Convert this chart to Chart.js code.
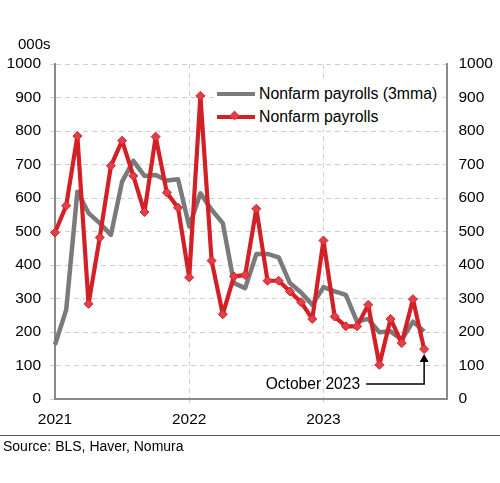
<!DOCTYPE html>
<html>
<head>
<meta charset="utf-8">
<script src="https://cdn.jsdelivr.net/npm/chart.js@4/dist/chart.umd.min.js"></script>
<style>
  html, body { margin:0; padding:0; background:#fff; }
  #wrap { position:relative; width:500px; height:483px; font-family:"Liberation Sans", Arial, sans-serif; }
  canvas { position:absolute; left:0; top:0; }
  .txt { position:absolute; color:#000; white-space:nowrap; }
  #legend { position:absolute; left:215px; top:80px; width:226px; height:49px; background:#fff; }
  .lrow { position:absolute; left:0; height:20px; font-size:15.8px; line-height:20px; }
  .lline { position:absolute; left:2px; top:8px; width:38px; height:4px; }
  .ltext { position:absolute; left:44px; top:0; }
  .diamond { position:absolute; left:16px; top:5px; width:7px; height:7px; background:#e0404a; transform:rotate(45deg); }
  #srcline { position:absolute; left:0; top:435px; width:500px; height:1px; background:#555; }
</style>
</head>
<body>
<div id="wrap">
  <canvas id="c" width="500" height="483"></canvas>
  <div class="txt" style="left:18px; top:35px; font-size:15px;">000s</div>
  <div id="legend">
    <div class="lrow" style="top:4px; width:226px;">
      <div class="lline" style="background:#7a7a7a;"></div>
      <div class="ltext">Nonfarm payrolls (3mma)</div>
    </div>
    <div class="lrow" style="top:27px; width:226px;">
      <div class="lline" style="background:#d32027;"></div>
      <div class="diamond"></div>
      <div class="ltext">Nonfarm payrolls</div>
    </div>
  </div>
  <div id="srcline"></div>
  <div class="txt" style="left:3px; top:438px; font-size:14px;">Source: BLS, Haver, Nomura</div>
</div>
<script>
const months = [
  "2021-01","2021-02","2021-03","2021-04","2021-05","2021-06","2021-07","2021-08","2021-09","2021-10","2021-11","2021-12",
  "2022-01","2022-02","2022-03","2022-04","2022-05","2022-06","2022-07","2022-08","2022-09","2022-10","2022-11","2022-12",
  "2023-01","2023-02","2023-03","2023-04","2023-05","2023-06","2023-07","2023-08","2023-09","2023-10","2023-11","2023-12"
];
const payrolls = [497, 577, 785, 284, 482, 696, 771, 666, 558, 783, 616, 571,
                  363, 905, 413, 253, 366, 370, 568, 353, 353, 321, 289, 239,
                  473, 246, 217, 217, 281, 102, 239, 167, 298, 149];
const payrolls3mma = [162, 266, 619, 555, 525, 490, 649, 711, 666, 669, 652, 656,
                      515, 614, 565, 525, 346, 331, 433, 433, 423, 346, 318, 281,
                      334, 321, 311, 231, 239, 199, 202, 177, 231, 202];
const yTicks = [0, 100, 200, 300, 400, 500, 600, 700, 800, 900, 1000];
const annotationLabel = "October 2023";
const annotationIndex = 33;

const FONT = "'Liberation Sans', Arial, sans-serif";

const annotationPlugin = {
  id: 'octAnnot',
  afterDatasetsDraw(chart) {
    const ctx = chart.ctx;
    const xs = chart.scales.x, ys = chart.scales.y;
    const px = xs.getPixelForValue(annotationIndex);
    const py = ys.getPixelForValue(payrolls[annotationIndex]);
    const ly = ys.getPixelForValue(45);
    ctx.save();
    ctx.font = "15.6px " + FONT;
    ctx.fillStyle = "#000";
    ctx.textAlign = "right";
    ctx.textBaseline = "middle";
    const textRight = px - 64;
    ctx.fillText(annotationLabel, textRight, ly + 1);
    ctx.strokeStyle = "#000";
    ctx.lineWidth = 1.5;
    ctx.beginPath();
    ctx.moveTo(textRight + 6, ly);
    ctx.lineTo(px, ly);
    ctx.lineTo(px, py + 12);
    ctx.stroke();
    ctx.beginPath();
    ctx.moveTo(px, py + 5);
    ctx.lineTo(px - 4.5, py + 13);
    ctx.lineTo(px + 4.5, py + 13);
    ctx.closePath();
    ctx.fillStyle = "#000";
    ctx.fill();
    ctx.restore();
  }
};

const tickFmt = (v) => String(v);

new Chart(document.getElementById('c'), {
  type: 'line',
  data: {
    labels: months,
    datasets: [
      {
        label: 'Nonfarm payrolls',
        data: payrolls,
        borderColor: '#d32027',
        borderWidth: 4.2,
        borderJoinStyle: 'round',
        pointStyle: 'rectRot',
        pointRadius: 4.5,
        pointBackgroundColor: '#e0404a',
        pointBorderColor: '#d32027',
        pointBorderWidth: 1,
        tension: 0,
        order: 0,
        yAxisID: 'y'
      },
      {
        label: 'Nonfarm payrolls (3mma)',
        data: payrolls3mma,
        borderColor: '#7a7a7a',
        borderWidth: 4.5,
        borderJoinStyle: 'round',
        pointRadius: 0,
        tension: 0,
        order: 1,
        yAxisID: 'y'
      }
    ]
  },
  options: {
    responsive: false,
    animation: false,
    layout: { padding: { top: 64, left: 0, right: 0, bottom: 0 } },
    plugins: { legend: { display: false }, tooltip: { enabled: false } },
    scales: {
      x: {
        type: 'category',
        offset: false,
        ticks: {
          autoSkip: false, maxRotation: 0, minRotation: 0,
          color: '#000', font: { size: 15.5, family: FONT }, padding: 7,
          callback: (v, i) => (i % 12 === 0 ? months[i].slice(0, 4) : '')
        },
        grid: {
          color: (c) => (c.index % 12 === 0 && c.index > 0 ? '#cfcfcf' : 'rgba(0,0,0,0)'),
          lineWidth: 1, tickLength: 4
        },
        border: { display: true, color: '#8a8a8a', width: 2, dash: [5, 4] },
        afterFit: (s) => { s.height = 84; }
      },
      y: {
        position: 'left',
        min: 0, max: 1000,
        afterBuildTicks: (s) => { s.ticks = yTicks.map(v => ({ value: v })); },
        ticks: { color: '#000', font: { size: 15.5, family: FONT }, padding: 9, callback: tickFmt },
        grid: { color: '#cfcfcf', lineWidth: 1, tickLength: 5 },
        border: { display: true, color: '#8a8a8a', width: 2, dash: [5, 4] },
        afterFit: (s) => { s.width = 55; }
      },
      y2: {
        position: 'right',
        min: 0, max: 1000,
        afterBuildTicks: (s) => { s.ticks = yTicks.map(v => ({ value: v })); },
        ticks: { color: '#000', font: { size: 15.5, family: FONT }, padding: 12, callback: tickFmt },
        grid: { display: false, drawTicks: false },
        border: { display: true, color: '#8a8a8a', width: 2 },
        afterFit: (s) => { s.width = 53.5; }
      }
    }
  },
  plugins: [annotationPlugin]
});
</script>
</body>
</html>
